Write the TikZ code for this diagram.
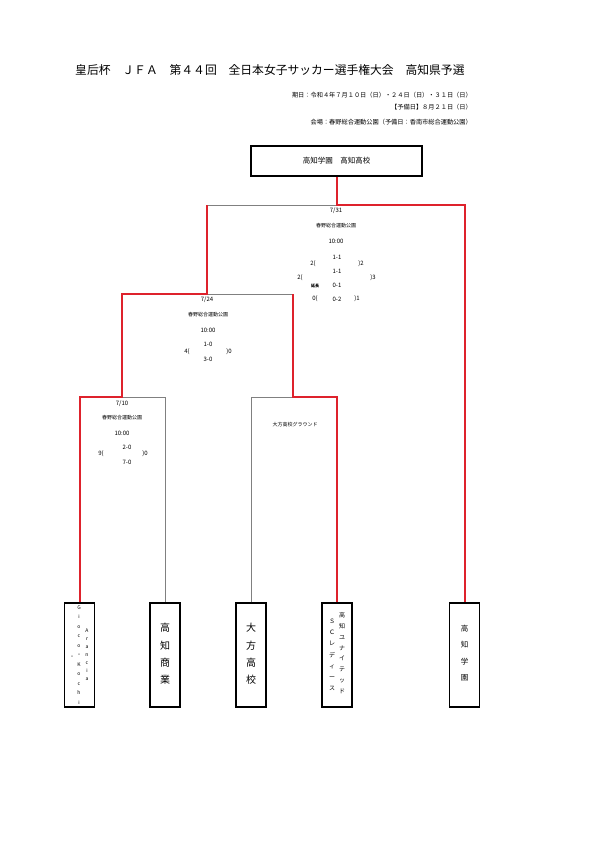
\documentclass[tikz,border=0pt]{standalone}
\usepackage{fontspec}
\setmainfont{Noto Sans CJK JP}
\usetikzlibrary{calc}
\definecolor{winred}{RGB}{222,34,44}
\definecolor{losegray}{RGB}{128,128,128}

\begin{document}
\begin{tikzpicture}[x=1pt, y=-1pt,
  win/.style={winred, line width=2pt, line join=miter},
  lose/.style={losegray, line width=0.9pt},
  teambox/.style={draw, line width=1.3pt, minimum width=30pt, minimum height=104pt, inner sep=0pt},
  score/.style={font=\fontsize{6}{6}\selectfont, inner sep=0pt},
  place/.style={font=\fontsize{5}{5}\selectfont, inner sep=0pt},
  hdr/.style={font=\fontsize{6.2}{7}\selectfont, anchor=east, inner sep=0pt},
  tall/.style={align=center, inner sep=0pt}]
  \useasboundingbox (0,0) rectangle (595,841);
  % 表題と期日
  \node[anchor=west, inner sep=0pt, font=\fontsize{11.8}{12}\selectfont] (title) at (75,70) {皇后杯　ＪＦＡ　第４４回　全日本女子サッカー選手権大会　高知県予選};
  \node[hdr] (date) at (472,95) {期日：令和４年７月１０日（日）・２４日（日）・３１日（日）};
  \node[hdr] (spare) at (472,107) {【予備日】８月２１日（日）};
  \node[hdr] (venue) at (472,122) {会場：春野総合運動公園（予備日：香南市総合運動公園）};
  % 優勝校
  \node[draw, line width=1.3pt, minimum width=171pt, minimum height=30pt, font=\fontsize{7.5}{8}\selectfont] (champ) at (336.5,161) {高知学園　高知高校};
  % 出場チーム
  \node[teambox] (t1) at (79.5,655) {};
  \node[teambox] (t2) at (165,655) {};
  \node[teambox] (t3) at (251,655) {};
  \node[teambox] (t4) at (337,655) {};
  \node[teambox] (t5) at (464.5,655) {};
  \node[tall, font=\fontsize{5}{8}\selectfont] (t1a) at (87,655) {A\\r\\a\\n\\c\\i\\a};
  \node[tall, font=\fontsize{5}{9.5}\selectfont] (t1b) at (79,655) {G\\i\\o\\c\\o\\・\\K\\o\\c\\h\\i};
  \node[tall, font=\fontsize{5}{5}\selectfont] (t1c) at (72,657) {・};
  \node[tall, font=\fontsize{10}{17.3}\selectfont] (t2a) at (165,654) {高\\知\\商\\業};
  \node[tall, font=\fontsize{10}{17.3}\selectfont] (t3a) at (251,654) {大\\方\\高\\校};
  \node[tall, font=\fontsize{6}{10.8}\selectfont] (t4a) at (342,653) {高\\知\\ユ\\ナ\\イ\\テ\\ッ\\ド};
  \node[tall, font=\fontsize{6}{11.2}\selectfont] (t4b) at (332,655) {Ｓ\\Ｃ\\レ\\デ\\ィ\\ー\\ス};
  \node[tall, font=\fontsize{7.5}{16.5}\selectfont] (t5a) at (464.5,653) {高\\知\\学\\園};
  % 分岐点
  \coordinate (a1) at (79.5,397);
  \coordinate (a2) at (122,397);
  \coordinate (a3) at (165,397);
  \coordinate (b1) at (251,397);
  \coordinate (b2) at (293,397);
  \coordinate (b3) at (337,397);
  \coordinate (c1) at (122,294);
  \coordinate (c2) at (207,294);
  \coordinate (c3) at (293,294);
  \coordinate (d1) at (207,205);
  \coordinate (d2) at (336.5,205);
  \coordinate (d3) at (464.5,205);
  % 敗退側の線
  \draw[lose] (a2) -- (a3) -- (t2.north);
  \draw[lose] (t3.north) -- (b1) -- (b2);
  \draw[lose] (c2) -- (c3);
  \draw[lose] (d1) -- (d2);
  % 勝ち上がりの線
  \draw[win] (t1.north) -- (a1) -- (a2) -- (c1) -- (c2) -- (d1);
  \draw[win] (t4.north) -- (b3) -- (b2) -- (c3);
  \draw[win] (champ.south) -- (d2) -- (d3) -- (t5.north);
  % 7/10 の試合
  \node[score] (m1d) at (122,404) {7/10};
  \node[place] (m1v) at (122,418) {春野総合運動公園};
  \node[score] (m1t) at (122,433) {10:00};
  \node[score] (m1h1) at (127,447) {2-0};
  \node[score] (m1h2) at (127,462) {7-0};
  \node[score] (m1l) at (101,454) {9(};
  \node[score] (m1r) at (145,454) {)0};
  \node[place] (m2v) at (295,425) {大方高校グラウンド};
  % 7/24 の試合
  \node[score] (m3d) at (207,300) {7/24};
  \node[place] (m3v) at (208,315) {春野総合運動公園};
  \node[score] (m3t) at (208,330) {10:00};
  \node[score] (m3h1) at (208,344) {1-0};
  \node[score] (m3h2) at (208,359) {3-0};
  \node[score] (m3l) at (187,352) {4(};
  \node[score] (m3r) at (229,352) {)0};
  % 決勝 7/31
  \node[score] (m4d) at (336,211) {7/31};
  \node[place] (m4v) at (336,226) {春野総合運動公園};
  \node[score] (m4t) at (336,241) {10:00};
  \node[score] (m4h1) at (337,257) {1-1};
  \node[score] (m4h2) at (337,271) {1-1};
  \node[score] (m4e1) at (337,285) {0-1};
  \node[score] (m4e2) at (337,299) {0-2};
  \node[score] (m4l) at (313,264) {2(};
  \node[score] (m4r) at (361,264) {)2};
  \node[score] (m4ll) at (300,278) {2(};
  \node[score] (m4rr) at (373,278) {)3};
  \node[place, font=\fontsize{4}{4}\selectfont\bfseries] (m4x) at (315,286) {延長};
  \node[score] (m4pl) at (315,299) {0(};
  \node[score] (m4pr) at (357,299) {)1};
\end{tikzpicture}
\end{document}
